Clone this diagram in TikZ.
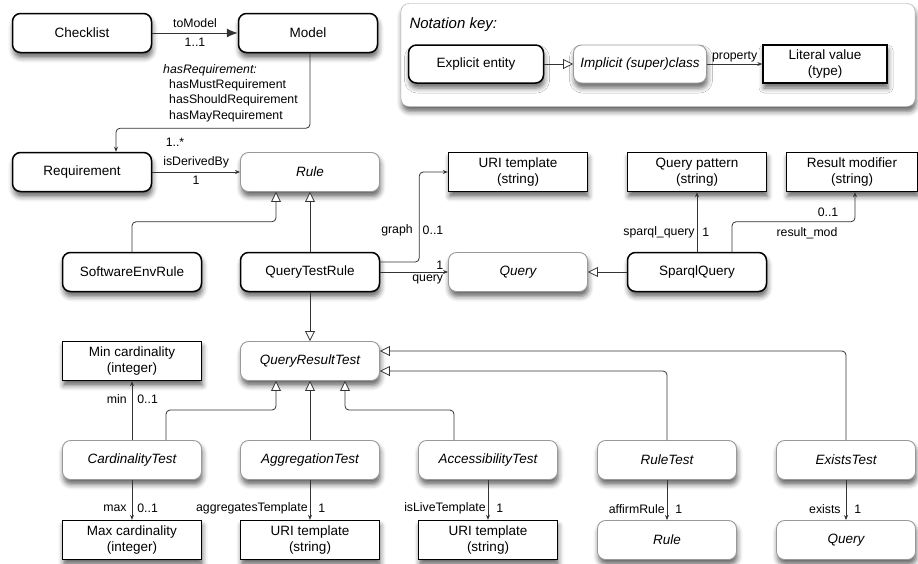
\documentclass[tikz,border=0pt]{standalone}
\usepackage{fontspec}
\setmainfont{Liberation Sans}
\usetikzlibrary{arrows.meta, positioning, shadows.blur}

\begin{document}
\begin{tikzpicture}[x=1pt, y=-1pt,
    every node/.style={font=\fontsize{13.5}{16.5}\selectfont},
    boxshadow/.style={blur shadow={shadow xshift=1pt, shadow yshift=-5pt, shadow blur radius=5pt, shadow opacity=60}},
    entity/.style={draw=black, line width=1.5pt, rounded corners=8pt, fill=white,
        minimum width=139pt, minimum height=39pt, align=center, boxshadow},
    implicit/.style={entity, draw=black!40, line width=0.9pt,
        font=\fontsize{13.5}{16.5}\selectfont\itshape},
    literal/.style={draw=black, line width=1.4pt, fill=white,
        minimum width=139pt, minimum height=39pt, align=center, boxshadow},
    lbl/.style={font=\fontsize{12.3}{14}\selectfont, inner sep=2pt},
    assoc/.style={draw=black!80, line width=0.8pt, rounded corners=4pt,
        -{Stealth[length=5pt,width=4pt]}},
    isa/.style={draw=black!80, line width=0.8pt, rounded corners=4pt,
        -{Triangle[open, length=10pt, width=10pt, fill=white]}}]

    \useasboundingbox (0,0) rectangle (918,563);

    % notation key
    \node[draw=black!35, rounded corners=8pt, fill=white, minimum width=514pt,
        minimum height=103pt, boxshadow] (keybox) at (658,55) {};
    \node[anchor=west, font=\fontsize{15}{18}\selectfont\itshape] (keytitle) at (406,25) {Notation key:};
    \node[entity, minimum width=135pt, minimum height=38pt] (explicit) at (476,64) {Explicit entity};
    \node[implicit, minimum width=133pt, minimum height=38pt] (implicitcls) at (640,64) {Implicit (super)class};
    \node[literal, minimum width=124pt, minimum height=38pt] (literal) at (825,64) {Literal value\\(type)};
    \draw[isa] (explicit) -- (implicitcls);
    \draw[assoc] (implicitcls) -- (literal) node[lbl, midway, above] {property};

    % explicit entities
    \node[entity] (checklist) at (82,33) {Checklist};
    \node[entity] (model) at (308,33) {Model};
    \node[entity] (req) at (82,172) {Requirement};
    \node[entity] (swenv) at (132,272) {SoftwareEnvRule};
    \node[entity] (qtrule) at (310,272) {QueryTestRule};
    \node[entity] (sparql) at (697,272) {SparqlQuery};

    % implicit classes
    \node[implicit] (rule) at (310,172) {Rule};
    \node[implicit] (query) at (518,272) {Query};
    \node[implicit] (qrtest) at (310,361) {QueryResultTest};
    \node[implicit] (cardtest) at (132,460) {CardinalityTest};
    \node[implicit] (aggtest) at (310,460) {AggregationTest};
    \node[implicit] (acctest) at (488,460) {AccessibilityTest};
    \node[implicit] (ruletest) at (667,460) {RuleTest};
    \node[implicit] (existstest) at (846,460) {ExistsTest};
    \node[implicit] (ruleref) at (667,540) {Rule};
    \node[implicit] (queryref) at (846,540) {Query};

    % literal values
    \node[literal] (uritpl) at (518,172) {URI template\\(string)};
    \node[literal] (qpattern) at (697,172) {Query pattern\\(string)};
    \node[literal, minimum width=131pt] (resmod) at (852,172) {Result modifier\\(string)};
    \node[literal] (mincard) at (132,361) {Min cardinality\\(integer)};
    \node[literal] (maxcard) at (132,540) {Max cardinality\\(integer)};
    \node[literal] (aggtpl) at (310,540) {URI template\\(string)};
    \node[literal] (livetpl) at (488,540) {URI template\\(string)};

    % properties
    \draw[draw=black!80, line width=1pt, -{Latex[length=11pt,width=9pt]}] (checklist) -- (model)
        node[lbl, midway, above=3pt] {toModel} node[lbl, midway, below=3pt] {1..1};
    \draw[assoc] ([xshift=2pt]model.south) -- ++(0,75) -| ([xshift=34pt]req.north);
    \node[lbl, anchor=north west, align=left, font=\fontsize{12.3}{15.3}\selectfont] (hasreq) at (161,62)
        {\textit{hasRequirement:}\\\hspace*{6pt}hasMustRequirement\\\hspace*{6pt}hasShouldRequirement\\\hspace*{6pt}hasMayRequirement};
    \node[lbl] (reqcard) at (175,142) {1..*};
    \draw[assoc] (req) -- (rule)
        node[lbl, midway, above=2pt] {isDerivedBy} node[lbl, midway, below=2pt] {1};

    \draw[assoc] ([yshift=10pt]qtrule.east) -- ++(39,0) |- (uritpl.west);
    \node[lbl] (graphlbl) at (397,230) {graph};
    \node[lbl] (graphcard) at (433,230) {0..1};
    \draw[assoc] (qtrule) -- (query)
        node[lbl, pos=0.88, above] {1} node[lbl, pos=0.7, below] {query};

    \draw[assoc] (sparql) -- (qpattern)
        node[lbl, pos=0.32, left] {sparql\_query} node[lbl, pos=0.32, right=3pt] {1};
    \draw[assoc] ([xshift=35pt]sparql.north) -- ++(0,-30) -| ([xshift=3pt]resmod.south);
    \node[lbl] (rescard) at (828,212) {0..1};
    \node[lbl] (reslbl) at (807,233) {result\_mod};

    \draw[assoc] (cardtest) -- (mincard)
        node[lbl, pos=0.7, left=3pt] {min} node[lbl, pos=0.7, right=3pt] {0..1};
    \draw[assoc] (cardtest) -- (maxcard)
        node[lbl, pos=0.72, left=3pt] {max} node[lbl, pos=0.72, right=3pt] {0..1};
    \draw[assoc] (aggtest) -- (aggtpl)
        node[lbl, pos=0.72, left] {aggregatesTemplate} node[lbl, pos=0.72, right=6pt] {1};
    \draw[assoc] (acctest) -- (livetpl)
        node[lbl, pos=0.72, left] {isLiveTemplate} node[lbl, pos=0.72, right=6pt] {1};
    \draw[assoc] (ruletest) -- (ruleref)
        node[lbl, pos=0.72, left] {affirmRule} node[lbl, pos=0.72, right=6pt] {1};
    \draw[assoc] (existstest) -- (queryref)
        node[lbl, pos=0.72, left=3pt] {exists} node[lbl, pos=0.72, right=6pt] {1};

    % subclass links
    \draw[isa] (swenv.north) -- ++(0,-30) -| ([xshift=-34pt]rule.south);
    \draw[isa] (qtrule) -- (rule);
    \draw[isa] (qtrule) -- (qrtest);
    \draw[isa] (sparql) -- (query);
    \draw[isa] ([xshift=34pt]cardtest.north) -- ++(0,-30) -| ([xshift=-34pt]qrtest.south);
    \draw[isa] (aggtest) -- (qrtest);
    \draw[isa] ([xshift=-34pt]acctest.north) -- ++(0,-30) -| ([xshift=35pt]qrtest.south);
    \draw[isa] (ruletest.north) |- ([yshift=-10pt]qrtest.east);
    \draw[isa] (existstest.north) |- ([yshift=10pt]qrtest.east);

\end{tikzpicture}
\end{document}
